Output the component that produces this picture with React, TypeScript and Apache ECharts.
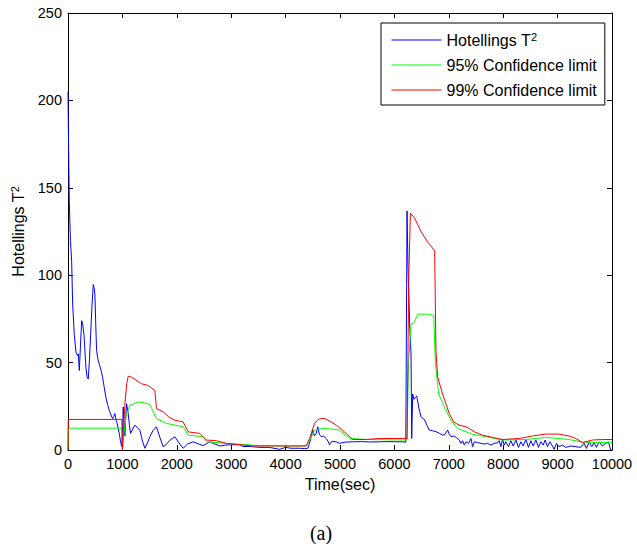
import React, { useEffect, useRef } from "react";
import * as echarts from "echarts";

// [time (sec), value]
const hotellings: [number, number][] = [
  [0, 205], [10, 175], [24, 142], [45, 120], [67, 108], [86, 83], [116, 66], [147, 56], [175, 54], [190, 55],
  [208, 45.5], [230, 60], [251, 74], [270, 72], [294, 66], [315, 55], [330, 47], [350, 42], [373, 40.7], [395, 52],
  [416, 66], [440, 82], [465, 94.7], [480, 93], [495, 89], [510, 72], [526, 56.8], [550, 52], [575, 49], [605, 46],
  [636, 41.6], [665, 36], [697, 30], [728, 26], [758, 22.7], [790, 20], [820, 18], [840, 19], [862, 20.8], [885, 17],
  [905, 15.2], [925, 12], [942, 9.5], [965, 5], [985, 1.9], [1000, 8], [1015, 24.6], [1030, 15], [1046, 8], [1060, 18],
  [1076, 26.5], [1090, 24], [1107, 20.8], [1130, 14], [1150, 9.5], [1190, 12], [1229, 14.2], [1270, 13], [1321, 11.4], [1370, 5],
  [1413, 1], [1460, 4], [1505, 7.6], [1560, 11], [1627, 13.3], [1680, 8], [1749, 1.9], [1800, 3], [1870, 5.5], [1963, 7.6],
  [2040, 4], [2116, 1], [2200, 3.5], [2300, 4.7], [2400, 3.5], [2483, 2.5], [2606, 4.7], [2667, 3.8], [2789, 2.3], [2900, 2.8],
  [3000, 3], [3156, 3], [3217, 2], [3350, 2], [3523, 1.5], [3700, 1.5], [3890, 0.4], [4000, 1.5], [4100, 1], [4257, 1],
  [4350, 0.8], [4410, 1], [4450, 5], [4501, 11.4], [4530, 8], [4562, 9.5], [4593, 13.3], [4620, 9], [4654, 7.6], [4700, 8],
  [4746, 6.6], [4780, 5], [4807, 3], [4850, 5], [4930, 4.7], [4991, 3.8], [5100, 4.5], [5235, 4.7], [5400, 4.8], [5550, 4.6],
  [5725, 4.7], [5900, 4.8], [6050, 4.7], [6153, 4.7], [6210, 4.5], [6232, 136.7], [6250, 105], [6280, 72], [6306, 55], [6318, 6.6],
  [6336, 32], [6360, 29], [6385, 30], [6410, 31], [6450, 24], [6489, 19], [6520, 18], [6550, 17.6], [6600, 14], [6642, 11.4],
  [6700, 11], [6764, 10.5], [6830, 9.5], [6887, 8.5], [6930, 9], [6979, 11.4], [7010, 9], [7040, 7.6], [7100, 8], [7193, 5.7],
  [7224, 3.8], [7254, 5.3], [7285, 2.8], [7315, 4.7], [7364, 3.8], [7407, 6.6], [7438, 1.9], [7468, 4.7], [7529, 4.2], [7591, 3.8],
  [7652, 3.4], [7713, 3.8], [7774, 2.8], [7835, 3.8], [7896, 4.2], [7927, 5.3], [7958, 1.9], [7988, 6.1], [8019, 2.8], [8049, 4.7],
  [8098, 1.9], [8141, 5.3], [8184, 2.3], [8233, 5.7], [8282, 1.5], [8325, 4.7], [8367, 2.3], [8416, 6.1], [8465, 1.5], [8508, 5.3],
  [8551, 2.3], [8600, 5.7], [8649, 1.5], [8692, 4.7], [8734, 2.8], [8771, 5.7], [8814, 1.9], [8857, 4.7], [8906, 2.3], [8936, 0.4],
  [8979, 3.8], [9028, 1.9], [9089, 2.8], [9150, 1.5], [9242, 2.3], [9334, 1.9], [9426, 1.5], [9487, 3.8], [9530, 0.9], [9579, 4.7],
  [9628, 1.9], [9670, 4.2], [9713, 1.5], [9762, 4.7], [9823, 2.3], [9884, 3.8], [9933, 4.7], [9976, 0], [10000, 0],
];

const limit95: [number, number][] = [
  [0, 0], [5, 12.5], [990, 12.5], [1000, 0], [1030, 10], [1070, 20], [1138, 25.6], [1291, 27.5], [1400, 27], [1505, 26],
  [1627, 18], [1810, 15.2], [2116, 13.3], [2208, 8.5], [2483, 7.6], [2544, 4.7], [2911, 3.8], [3523, 2.5], [4000, 2.3], [4379, 2.3],
  [4450, 6], [4532, 11.4], [4685, 12.3], [4850, 12], [4991, 11.4], [5174, 6.6], [5500, 6], [6153, 5.7], [6232, 5.7], [6260, 50],
  [6306, 72], [6367, 73], [6428, 77.7], [6642, 77.7], [6722, 77], [6753, 50], [6813, 32], [6917, 24.6], [7040, 17], [7162, 12.3],
  [7437, 9], [7682, 7.6], [7988, 5.7], [8416, 6], [8783, 7.2], [9211, 6], [9456, 4.5], [9976, 4.2], [10000, 4.2],
];

const limit99: [number, number][] = [
  [0, 0], [5, 17.5], [990, 17.5], [1000, 0], [1020, 12], [1050, 28], [1080, 38], [1107, 42.2], [1150, 42], [1250, 40],
  [1352, 37.9], [1474, 36.9], [1596, 34], [1627, 23.7], [1749, 21.8], [1850, 19], [1963, 17], [2116, 16.1], [2208, 10.4], [2300, 10],
  [2422, 9.5], [2544, 5.7], [2728, 5.3], [2911, 3.8], [3100, 3.2], [3400, 2.3], [3800, 2.3], [4379, 2.3], [4440, 6.6], [4532, 15.2],
  [4600, 17.5], [4654, 18], [4720, 18], [4777, 17], [4850, 15.8], [4930, 14.2], [5020, 12], [5113, 9.5], [5235, 6], [5480, 6],
  [5725, 6.6], [6153, 6.6], [6232, 6.6], [6265, 100], [6294, 135.4], [6367, 133], [6489, 125], [6611, 119], [6740, 114], [6764, 56.8],
  [6795, 41.7], [6886, 32], [7009, 20.8], [7089, 16], [7193, 14.2], [7315, 13.3], [7376, 12.3], [7468, 10.4], [7621, 8.5], [7804, 7.2],
  [7988, 6], [8294, 6.6], [8538, 8], [8783, 9.1], [9028, 9.1], [9211, 8], [9333, 6.6], [9456, 4.2], [9639, 5.7], [9823, 6], [10000, 6],
];

const seriesNames = ["Hotellings T2", "95% Confidence limit", "99% Confidence limit"];
const seriesColors = ["#0000ff", "#00ff00", "#ff0000"];

const font = "'Liberation Sans', Arial, sans-serif";
const sup = { fontSize: 11, padding: [0, 0, 7, 0], fontFamily: font, color: "#000" };

const App = () => {
  const ref = useRef<HTMLDivElement>(null);

  useEffect(() => {
    const chart = echarts.init(ref.current!, null, { renderer: "svg" });
    const boxAxis = {
      type: "value" as const,
      min: 0,
      axisLine: { show: true, onZero: false, lineStyle: { color: "#000", width: 1 } },
      axisTick: { show: true, inside: true, length: 5, lineStyle: { color: "#000" } },
      splitLine: { show: false },
    };
    const tickLabel = {
      fontSize: 14.5,
      fontFamily: font,
      color: "#000",
      margin: 6,
      formatter: (v: number) => String(v),
    };
    chart.setOption({
      animation: false,
      backgroundColor: "#fff",
      grid: { left: 68, right: 25, top: 13, bottom: 94 },
      xAxis: [
        {
          ...boxAxis,
          max: 10000,
          interval: 1000,
          name: "Time(sec)",
          nameLocation: "middle",
          nameGap: 26,
          nameTextStyle: { fontSize: 16, fontFamily: font, color: "#000" },
          axisLabel: tickLabel,
        },
        { ...boxAxis, max: 10000, interval: 1000, position: "top", axisLabel: { show: false } },
      ],
      yAxis: [
        {
          ...boxAxis,
          max: 250,
          interval: 50,
          name: "Hotellings T{sup|2}",
          nameLocation: "middle",
          nameGap: 39,
          nameTextStyle: { fontSize: 16, fontFamily: font, color: "#000", rich: { sup } },
          axisLabel: tickLabel,
        },
        { ...boxAxis, max: 250, interval: 50, position: "right", axisLabel: { show: false } },
      ],
      legend: {
        orient: "vertical",
        left: 381,
        top: 23,
        padding: [8, 8, 7, 10],
        itemWidth: 50,
        itemHeight: 16,
        itemGap: 9,
        borderColor: "#000",
        borderWidth: 1,
        backgroundColor: "#fff",
        data: seriesNames,
        itemStyle: { opacity: 0 },
        lineStyle: { width: 1 },
        formatter: (name: string) => (name === seriesNames[0] ? "Hotellings T{sup|2}" : name),
        textStyle: { fontSize: 16, fontFamily: font, color: "#000", rich: { sup } },
      },
      series: [hotellings, limit95, limit99].map((d, i) => ({
        name: seriesNames[i],
        type: "line",
        data: d,
        symbol: "none",
        showSymbol: false,
        color: seriesColors[i],
        lineStyle: { color: seriesColors[i], width: 1 },
      })),
      graphic: [
        {
          type: "text",
          x: 321,
          y: 533,
          style: {
            text: "(a)",
            fontSize: 20,
            fontFamily: "'Liberation Serif', 'Times New Roman', serif",
            fill: "#000",
            textAlign: "center",
            textVerticalAlign: "middle",
          },
        },
      ],
    });
    return () => {
      chart.dispose();
    };
  }, []);

  return <div ref={ref} style={{ position: "absolute", left: 0, top: 0, width: 637, height: 544 }} />;
};

export default App;
